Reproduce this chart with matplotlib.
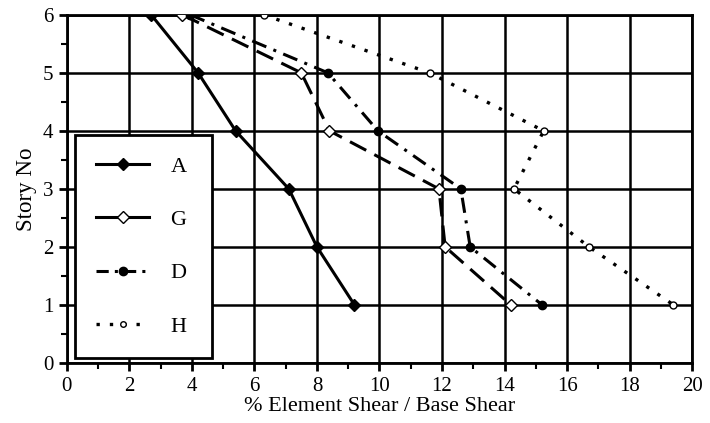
import matplotlib.pyplot as plt
from matplotlib.ticker import MultipleLocator
from matplotlib.lines import Line2D

plt.rcParams['font.family'] = ['Liberation Serif', 'DejaVu Serif']

story = [6, 5, 4, 3, 2, 1]
shear_A = [2.7, 4.2, 5.4, 7.1, 8.0, 9.2]
shear_G = [3.7, 7.5, 8.4, 11.9, 12.1, 14.2]
shear_D = [3.95, 8.35, 9.95, 12.6, 12.9, 15.2]
shear_H = [6.3, 11.6, 15.25, 14.3, 16.7, 19.4]

fig = plt.figure(figsize=(7.1, 4.23), dpi=100)
ax = fig.add_axes([0.094, 0.142, 0.881, 0.823])

ax.plot(shear_A, story, 'k-', lw=2.2, marker='D', ms=6, mfc='k', zorder=5)
ax.plot(shear_G, story, 'k', ls=(0, (6, 3)), lw=2.2, marker='D', ms=6, mfc='white', zorder=5)
ax.plot(shear_D, story, 'k', ls=(0, (5, 2.5, 1, 2.5)), lw=2.2, marker='o', ms=6, mfc='k', zorder=5)
ax.plot(shear_H, story, 'k', ls=(0, (1, 3)), lw=2.4, marker='o', ms=5, mfc='white', zorder=5)

ax.set_xlim(0, 20)
ax.set_ylim(0, 6)
ax.xaxis.set_major_locator(MultipleLocator(2))
ax.xaxis.set_minor_locator(MultipleLocator(1))
ax.yaxis.set_major_locator(MultipleLocator(1))
ax.yaxis.set_minor_locator(MultipleLocator(0.5))
ax.grid(True, which='major', color='k', lw=1.8)
ax.tick_params(which='major', direction='out', length=6, width=2, labelsize=15, colors='k')
ax.tick_params(axis='x', which='major', pad=4)
ax.tick_params(which='minor', direction='out', length=4, width=1.5)
for s in ax.spines.values():
    s.set_linewidth(2)

ax.set_xlabel('% Element Shear / Base Shear', fontsize=16, labelpad=1)
ax.set_ylabel('Story No', fontsize=16.5, labelpad=4)

# key: G is drawn solid here, unlike in the plot
handles = [
    Line2D([], [], color='k', lw=2.2, marker='D', ms=6, mfc='k'),
    Line2D([], [], color='k', lw=2.2, marker='D', ms=6, mfc='white'),
    Line2D([], [], color='k', lw=2.2, ls=(0, (4, 2, 1, 2)), marker='o', ms=6, mfc='k'),
    Line2D([], [], color='k', lw=2.4, ls=(0, (1, 3)), marker='o', ms=4, mfc='white'),
]
leg = ax.legend(handles, ['A', 'G', 'D', 'H'], loc='upper left',
                bbox_to_anchor=(0.013, 0.026, 0.219, 0.629), mode='expand',
                fontsize=16, labelspacing=1.48, handlelength=2.4, handletextpad=0.95,
                borderpad=0.95, fancybox=False, shadow=False, framealpha=1,
                edgecolor='k', borderaxespad=0)
leg.get_frame().set_linewidth(2)
leg.set_zorder(10)

plt.savefig('out.png', dpi=100)
